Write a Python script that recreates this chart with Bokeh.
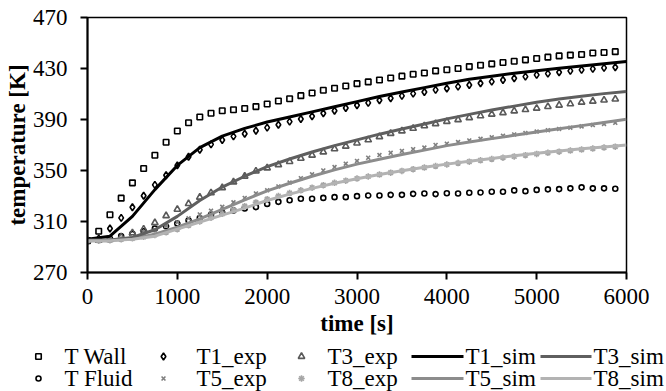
from bokeh.plotting import figure
from bokeh.layouts import column
from bokeh.models import Range1d, FixedTicker
from bokeh.core.properties import value
from bokeh.embed import file_html
from bokeh.resources import INLINE

# ---- data -------------------------------------------------------------
# measurement times [s] (one sample every 125 s) and simulation output times
t_exp = list(range(0, 6000, 125))
t_sim = list(range(0, 6001, 250))

T_wall = [295, 302.4, 315.3, 328.3, 340.3, 351.6, 362.0, 372.1, 381.0, 387.5,
          392.0, 394.9, 396.9, 397.7, 398.6, 400.1, 402.2, 404.5, 406.3, 408.7,
          410.8, 412.9, 414.5, 416.3, 418.1, 419.5, 421.0, 422.6, 424.0, 425.5,
          426.5, 428.1, 429.0, 430.0, 431.5, 432.6, 433.6, 434.7, 435.7, 436.8,
          437.8, 438.9, 439.9, 440.5, 441.0, 442.1, 442.6, 443.2]
T_fluid = [295, 295.5, 296.5, 298.5, 300.3, 302.4, 304.5, 306.3, 308.4, 310.8,
           312.8, 315.3, 316.8, 318.6, 320.2, 321.3, 323.8, 325.4, 326.7, 327.8,
           327.8, 328.5, 329.1, 329.1, 329.9, 330.4, 330.4, 330.9, 330.9, 331.7,
           332.0, 331.5, 332.2, 332.0, 332.5, 332.8, 333.3, 333.3, 334.4, 333.8,
           334.8, 335.2, 335.4, 336.0, 336.8, 336.0, 336.0, 335.7]
T1_exp = [295, 296.6, 304.5, 312.8, 321.2, 330.2, 338.7, 346.3, 354.0, 360.8,
          366.3, 370.5, 373.9, 376.8, 378.8, 381.2, 383.6, 385.9, 388.3, 390.4,
          392.5, 394.9, 396.9, 399.0, 401.2, 403.0, 405.1, 406.7, 408.5, 410.3,
          411.6, 413.2, 414.3, 415.8, 417.1, 418.4, 419.7, 421.0, 422.4, 423.6,
          425.0, 426.0, 427.1, 428.1, 428.9, 429.7, 430.5, 431.0]
T3_exp = [295, 295.3, 295.8, 297.8, 301.0, 304.0, 309.0, 314.5, 319.5, 324.0,
          329.0, 332.5, 336.5, 341.0, 345.5, 349.5, 352.0, 354.5, 357.0, 359.5,
          362.0, 364.5, 367.0, 369.0, 371.5, 374.0, 376.5, 379.0, 381.0, 383.0,
          385.0, 386.7, 388.4, 389.8, 391.4, 392.8, 394.1, 395.3, 396.7, 397.7,
          398.8, 400.1, 401.2, 402.2, 403.5, 404.3, 405.2, 406.0]
T5_exp = [295, 295.0, 295.5, 296.5, 298.0, 300.5, 303.5, 306.5, 309.5, 312.5,
          315.5, 318.5, 321.5, 325.0, 328.5, 332.0, 334.5, 337.5, 340.5, 344.0,
          347.0, 350.0, 352.7, 355.3, 357.5, 360.0, 362.1, 363.9, 365.3, 366.7,
          368.0, 370.0, 371.0, 372.3, 373.6, 374.8, 376.0, 377.2, 378.3, 379.4,
          380.5, 381.6, 382.6, 383.6, 384.6, 385.6, 386.5, 387.4]
T8_exp = [295, 295.0, 295.3, 296.0, 296.8, 298.0, 299.5, 301.5, 304.0, 307.0,
          310.0, 313.0, 316.0, 319.0, 322.0, 325.0, 327.5, 330.0, 332.3, 334.5,
          336.5, 338.5, 340.3, 342.0, 343.7, 345.3, 346.8, 348.3, 349.7, 351.0,
          352.3, 353.5, 354.7, 355.8, 356.9, 358.0, 359.0, 360.0, 361.0, 362.0,
          363.0, 363.9, 364.8, 365.6, 366.4, 367.2, 368.0, 368.7]

T1_sim = [296, 298.5, 314, 335, 354, 368, 377, 383, 388, 392, 396, 400, 404,
          408, 411.5, 415, 418.5, 421.5, 424, 426.3, 428.3, 430.2, 432, 433.8, 435.5]
T3_sim = [295.5, 295.5, 297.5, 303.5, 314, 326.5, 337, 345.5, 353, 359, 364.5,
          369.5, 374, 378.5, 382.5, 386.5, 390.5, 394, 397.5, 400.5, 403.5, 406,
          408.3, 410.3, 412]
T5_sim = [295, 295, 296.5, 300, 305.5, 312, 319.5, 327, 334, 340, 345.5, 350.5,
          355, 358.8, 362.5, 366, 369.5, 372.3, 375, 377.6, 380.2, 382.7, 385.2,
          387.7, 390.2]
T8_sim = [295, 295, 296, 298.5, 304, 309.5, 315, 320.5, 326.5, 331.5, 336, 340,
          343.5, 346.8, 349.8, 352.5, 355, 357.3, 359.5, 361.5, 363.5, 365.3, 367,
          368.5, 370]

x_ticks = [0, 1000, 2000, 3000, 4000, 5000, 6000]
y_ticks = [270, 310, 350, 390, 430, 470]

FONT = "Liberation Serif"
TICK_FONT = "Times New Roman"

# ---- styles per series ---------------------------------------------------
exp_series = [
    ("T Wall", T_wall, "square", "black", 5.5),
    ("T Fluid", T_fluid, "circle", "black", 5),
    ("T1_exp", T1_exp, "diamond", "black", 7),
    ("T5_exp", T5_exp, "x", "#7f7f7f", 5.5),
    ("T3_exp", T3_exp, "triangle", "#595959", 6.5),
    ("T8_exp", T8_exp, "asterisk", "#a6a6a6", 6.5),
]
sim_series = [
    ("T1_sim", T1_sim, "black"),
    ("T5_sim", T5_sim, "#8c8c8c"),
    ("T3_sim", T3_sim, "#5f5f5f"),
    ("T8_sim", T8_sim, "#b3b3b3"),
]

# ---- main chart --------------------------------------------------------
p = figure(width=666, height=342, x_range=Range1d(0, 6000), y_range=Range1d(270, 470),
           output_backend="svg", toolbar_location=None,
           min_border_left=87, min_border_right=40, min_border_top=17,
           min_border_bottom=70)
p.grid.visible = False
p.outline_line_color = "black"
p.outline_line_width = 1.5

for name, ys, marker, color, size in exp_series:
    p.scatter(t_exp, ys, marker=marker, size=size, line_color=color,
              fill_color=None, line_width=1.6)

for name, ys, color in sim_series:
    p.line(t_sim, ys, line_color=color, line_width=3, line_join="round")

for ax in (p.xaxis, p.yaxis):
    ax.axis_line_width = 2
    ax.major_tick_line_width = 2
    ax.major_tick_in = 0
    ax.major_tick_out = 7
    ax.minor_tick_line_color = None
    ax.major_label_text_font = TICK_FONT
    ax.major_label_text_font_size = "23px"
    ax.major_label_text_color = "black"
    ax.axis_label_text_font = FONT
    ax.axis_label_text_font_size = "23px"
    ax.axis_label_text_font_style = "bold"
    ax.axis_label_text_color = "black"

p.xaxis.ticker = FixedTicker(ticks=x_ticks)
p.yaxis.ticker = FixedTicker(ticks=y_ticks)
p.xaxis.major_label_standoff = 9
p.yaxis.major_label_standoff = 13
p.xaxis.axis_label = "time [s]"
p.yaxis.axis_label = "temperature [K]"
p.xaxis.axis_label_standoff = 4
p.yaxis.axis_label_standoff = 0

# ---- legend strip ------------------------------------------------------
leg = figure(width=666, height=49, x_range=Range1d(0, 666), y_range=Range1d(49, 0),
             output_backend="svg", toolbar_location=None, min_border=0,
             x_axis_type=None, y_axis_type=None)
leg.frame_align = False
leg.grid.visible = False
leg.outline_line_color = None

LEG_FONT_SIZE = "23px"
row_y = [14, 36]
col_x = [38, 163, 301]       # marker centres of the three marker columns
col_tx = [64, 196, 327]      # their text starts
line_cols = [(411, 463, 465), (540, 591, 593)]

exp_order = [exp_series[0], exp_series[2], exp_series[4],
             exp_series[1], exp_series[3], exp_series[5]]
for i, (name, ys, marker, color, size) in enumerate(exp_order):
    r, c = divmod(i, 3)
    leg.scatter([col_x[c]], [row_y[r]], marker=marker, size=size,
                line_color=color, fill_color=None, line_width=1.6)
    leg.text([col_tx[c]], [row_y[r]], text=[name], text_font=value(FONT),
             text_font_size=LEG_FONT_SIZE, text_baseline="middle", text_color="black")

sim_order = [sim_series[0], sim_series[2], sim_series[1], sim_series[3]]
for i, (name, ys, color) in enumerate(sim_order):
    r, c = divmod(i, 2)
    x0, x1, tx = line_cols[c]
    leg.line([x0, x1], [row_y[r], row_y[r]], line_color=color, line_width=3)
    leg.text([tx], [row_y[r]], text=[name], text_font=value(FONT),
             text_font_size=LEG_FONT_SIZE, text_baseline="middle", text_color="black")

layout = column(p, leg, spacing=0)
open("out.html", "w").write(file_html(layout, INLINE))
